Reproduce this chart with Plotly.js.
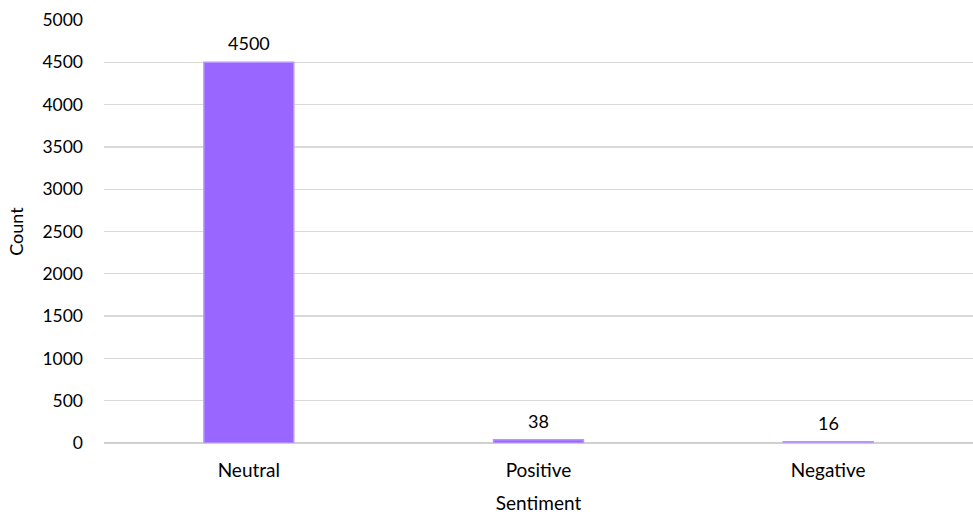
<!DOCTYPE html>
<html>
<head>
<meta charset="utf-8">
<script src="https://cdn.plot.ly/plotly-3.0.1.min.js"></script>
<style>html,body{margin:0;padding:0;background:#fff;}#chart{width:973px;height:514px;}</style>
</head>
<body>
<div id="chart"></div>
<script>
const categories = ["Neutral", "Positive", "Negative"];
const counts = [4500, 38, 16];
const yTicks = [0, 500, 1000, 1500, 2000, 2500, 3000, 3500, 4000, 4500, 5000];

const font = "Lato, Carlito, 'Liberation Sans', sans-serif";

const trace = {
  type: "bar",
  x: categories,
  y: counts,
  marker: {color: "#9966FF", line: {color: "#B794FF", width: 1.5}},
  hoverinfo: "none"
};

const annotations = categories.map((c, i) => ({
  x: c, y: counts[i], xref: "x", yref: "y",
  text: String(counts[i]), showarrow: false,
  yanchor: "bottom", yshift: 6,
  font: {family: font, size: 18, color: "#000"}
}));

const layout = {
  width: 973, height: 514,
  margin: {l: 104, r: 0, t: 20, b: 71},
  paper_bgcolor: "#fff", plot_bgcolor: "#fff",
  bargap: 0.69,
  showlegend: false,
  font: {family: font, size: 17, color: "#000"},
  xaxis: {
    type: "category",
    showgrid: false, showline: false, ticks: "",
    automargin: false,
    ticklabelstandoff: 14,
    tickfont: {family: font, size: 19},
    title: {text: "Sentiment", font: {family: font, size: 19}, standoff: 16}
  },
  yaxis: {
    range: [0, 5000],
    tickvals: yTicks,
    ticktext: yTicks.map(String),
    showgrid: true, gridcolor: "#D9D9D9", gridwidth: 1.3,
    zeroline: true, zerolinecolor: "#D0D0D0", zerolinewidth: 2,
    showline: false, ticks: "", ticklabelstandoff: 20,
    tickfont: {family: font, size: 17.5},
    title: {text: "Count", font: {family: font, size: 18}, standoff: 14}
  },
  annotations: annotations
};

Plotly.newPlot("chart", [trace], layout, {displayModeBar: false, staticPlot: true});
</script>
</body>
</html>
